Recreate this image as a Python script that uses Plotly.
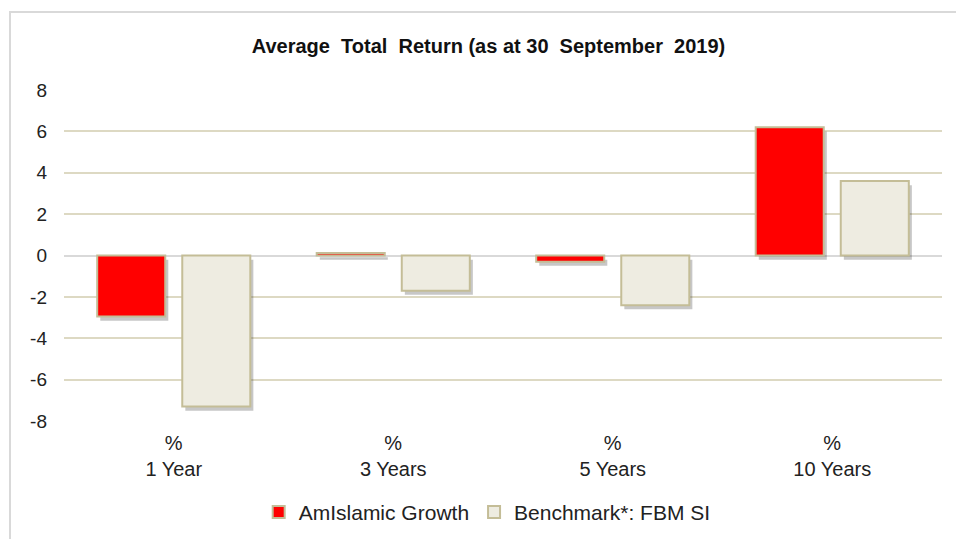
import plotly.graph_objects as go

categories = ["%<br>1 Year", "%<br>3 Years", "%<br>5 Years", "%<br>10 Years"]
fund_name = "AmIslamic Growth"
bench_name = "Benchmark*: FBM SI"
fund_values = [-2.95, 0.12, -0.3, 6.2]
bench_values = [-7.3, -1.7, -2.4, 3.6]
y_ticks = [-8, -6, -4, -2, 0, 2, 4, 6, 8]
y_tick_labels = ["-8", "-6", "-4", "-2", "0", "2", "4", "6", "8"]

FONT = "Liberation Sans, Arial, sans-serif"
OUTLINE = "#c4bd97"
pos = list(range(len(categories)))

BAR_W = 0.31
GAP = 0.0775
off_fund = -BAR_W - GAP / 2
off_bench = GAP / 2
SH_DX = 0.014   # shadow offset (x units)
SH_DY = 0.2     # shadow offset (y units)

fig = go.Figure()
# soft drop shadows
for vals, off in ((fund_values, off_fund), (bench_values, off_bench)):
    fig.add_trace(go.Bar(x=pos, y=vals, base=[-SH_DY] * len(vals),
                         width=BAR_W, offset=off + SH_DX,
                         marker=dict(color="rgba(0,0,0,0.22)", line=dict(width=0)),
                         showlegend=False, hoverinfo="skip"))
fig.add_trace(go.Bar(x=pos, y=fund_values, name=fund_name, width=BAR_W, offset=off_fund,
                     marker=dict(color="#ff0000", line=dict(color=OUTLINE, width=2))))
fig.add_trace(go.Bar(x=pos, y=bench_values, name=bench_name, width=BAR_W, offset=off_bench,
                     marker=dict(color="#eeece1", line=dict(color=OUTLINE, width=2))))

fig.update_layout(
    width=956, height=539,
    margin=dict(l=64, r=14, t=90, b=118, autoexpand=False),
    paper_bgcolor="white", plot_bgcolor="white",
    barmode="overlay",
    font=dict(family=FONT, size=20, color="#222"),
    title=dict(text="<b>Average  Total  Return (as at 30  September  2019)</b>",
               x=0.511, xanchor="center", y=1 - 46 / 539, yanchor="middle",
               font=dict(family=FONT, size=20, color="#111")),
    showlegend=True,
    legend=dict(orientation="h", x=0.482, xanchor="center", y=-0.276, yanchor="middle",
                font=dict(family=FONT, size=21, color="#222"), itemwidth=30,
                traceorder="normal"),
    shapes=[dict(type="rect", xref="paper", yref="paper",
                 x0=-0.0615, x1=1.2, y0=-0.6, y1=1.236,
                 line=dict(color="#d9d9d9", width=2), layer="below")],
)
fig.update_xaxes(range=[-0.5, 3.5], tickvals=pos, ticktext=categories,
                 showgrid=False, showline=False, ticks="", zeroline=False,
                 ticklabelstandoff=8,
                 tickfont=dict(family=FONT, size=20, color="#222"))
fig.update_yaxes(range=[-8, 8], tickvals=y_ticks, ticktext=y_tick_labels, showgrid=True,
                 gridcolor="#ddd9c3", gridwidth=1.5,
                 zeroline=True, zerolinecolor="#d9d9d9", zerolinewidth=2,
                 showline=False, ticks="", ticklabelstandoff=16,
                 tickfont=dict(family=FONT, size=19, color="#222"))

fig.write_html("out.html", config={"displayModeBar": False},
               post_script="document.body.style.margin='0';")
